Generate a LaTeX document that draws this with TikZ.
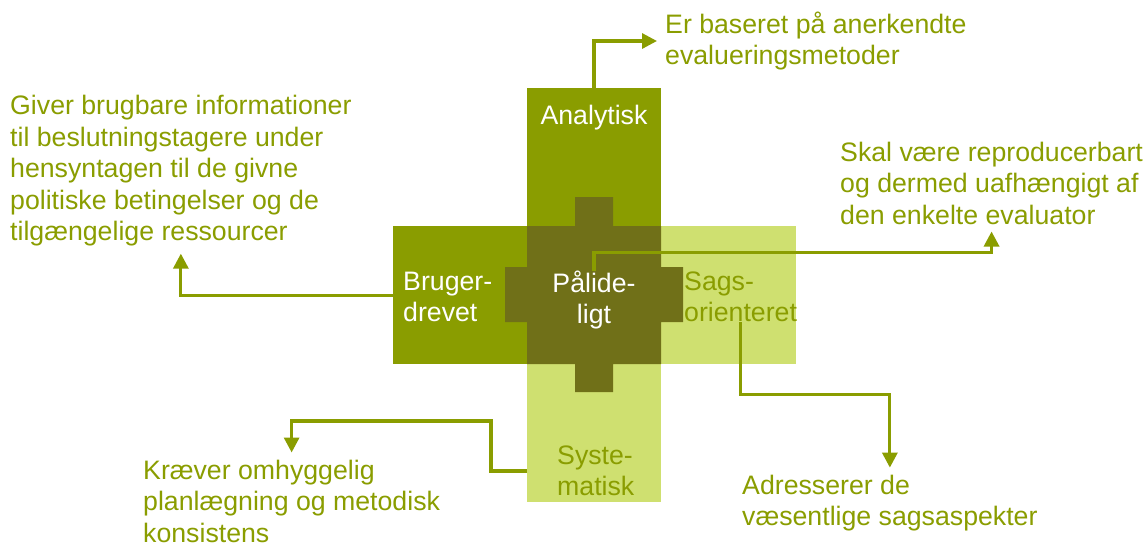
\documentclass[tikz,border=0pt]{standalone}
\usepackage{fontspec}
\setmainfont{Liberation Sans}
\usetikzlibrary{positioning,arrows.meta}
\definecolor{olivedark}{RGB}{138,157,0}
\definecolor{olivelight}{RGB}{207,224,112}
\definecolor{olivecore}{RGB}{112,112,24}

\begin{document}
\begin{tikzpicture}[x=1pt,y=-1pt,
    font=\fontsize{26.7}{31.5}\selectfont,
    bar/.style={shape=rectangle,anchor=north west,inner sep=0pt,
        minimum width=134pt,minimum height=138pt},
    inside/.style={inner sep=0pt,align=left},
    note/.style={inner sep=0pt,align=left,text=olivedark,anchor=west},
    link/.style={draw=olivedark,line width=3.2pt,
        -{Triangle[length=15pt,width=15pt]},shorten >=7pt}]
    \useasboundingbox (0,0) rectangle (1143,544);
    %%%%% THE CROSS
    \node[bar,fill=olivedark] (analytisk) at (527,88) {};
    \node[bar,fill=olivelight] (systematisk) at (527,364) {};
    \node[bar,fill=olivedark] (brugerdrevet) at (393,226) {};
    \node[bar,fill=olivelight,minimum width=135pt] (sagsorienteret) at (661,226) {};
    % the darker plus in the middle
    \fill[olivecore] (575,197) -- (613,197) -- (613,226) -- (661,226) -- (661,267)
        -- (683,267) -- (683,322) -- (661,322) -- (661,364) -- (613,364)
        -- (613,392) -- (575,392) -- (575,364) -- (527,364) -- (527,322)
        -- (505,322) -- (505,267) -- (527,267) -- (527,226) -- (575,226) -- cycle;
    %%%%% THE TEXTS IN THE CROSS
    \node[inside,text=white] (analytiskTxt) at (594,118) {Analytisk};
    \node[inside,text=white,anchor=west] (brugerTxt) at (403,297) {Bruger-\\drevet};
    \node[inside,text=white,align=center] (paalideTxt) at (594,300) {Pålide-\\ligt};
    \node[inside,text=olivedark,anchor=west] (sagsTxt) at (684,297) {Sags-\\orienteret};
    \node[inside,text=olivedark,anchor=west] (systeTxt) at (557,471) {Syste-\\matisk};
    %%%%% THE NOTES
    \node[note] (baseret) at (665,41) {Er baseret på anerkendte\\evalueringsmetoder};
    \node[note] (giver) at (10,171) {Giver brugbare informationer\\til beslutningstagere under\\hensyntagen til de givne\\politiske betingelser og de\\tilgængelige ressourcer};
    \node[note] (skal) at (840,183) {Skal være reproducerbart\\og dermed uafhængigt af\\den enkelte evaluator};
    \node[note] (adresserer) at (742,503) {Adresserer de\\væsentlige sagsaspekter};
    \node[note] (kraever) at (143,501) {Kræver omhyggelig\\planlægning og metodisk\\konsistens};
    %%%% LINKS FROM THE CROSS TO THE NOTES
    \draw[link,shorten >=8pt] (analytisk.north -| analytiskTxt) |- (baseret.west);
    \draw[link] (brugerdrevet.west) -| (giver.south);
    \draw[link] (paalideTxt.north) -- ++(0,-18) -| (skal.south);
    \draw[link] (sagsTxt.south) -- ++(0,72) -| (adresserer.north);
    \draw[link] (systeTxt.west -| systematisk.west) -- ++(-36,0) -- ++(0,-50) -| (kraever.north);
\end{tikzpicture}
\end{document}
